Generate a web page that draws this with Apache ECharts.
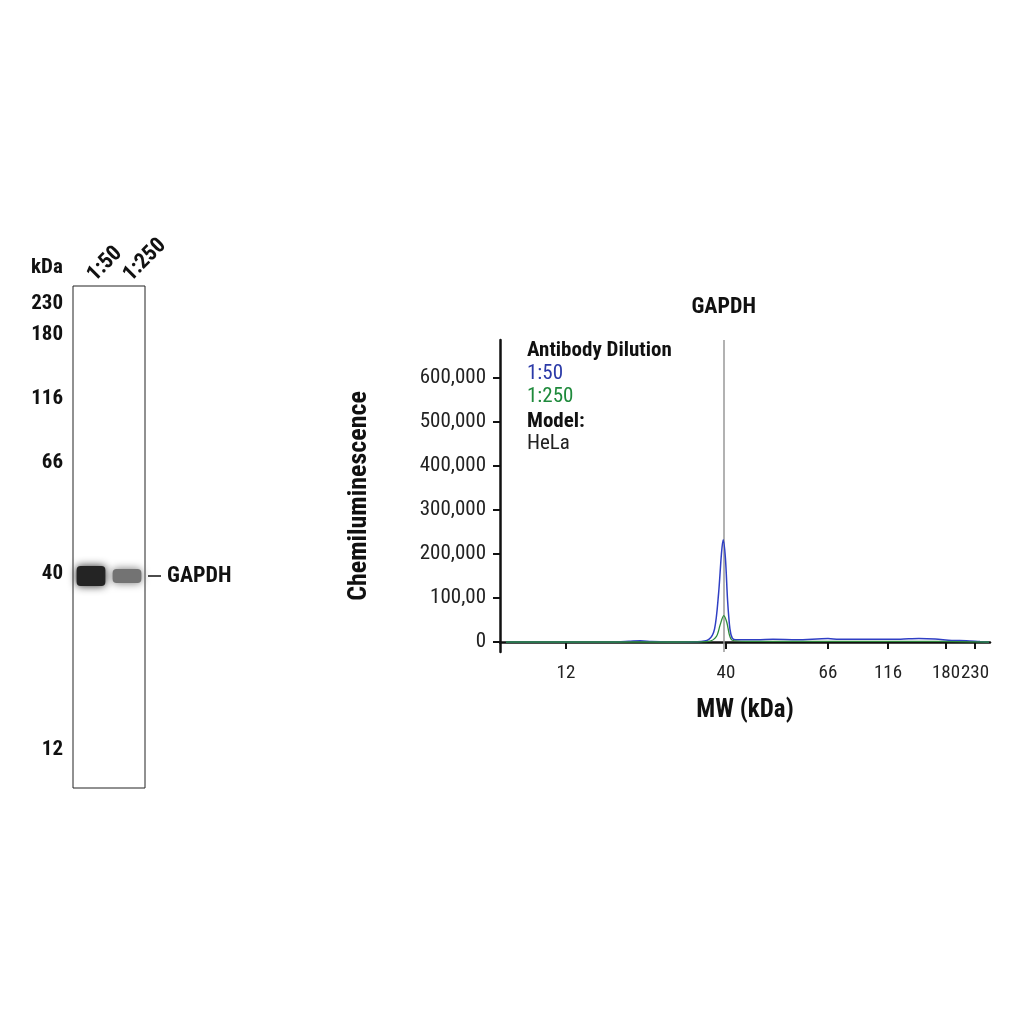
<!DOCTYPE html>
<html><head><meta charset="utf-8">
<script src="https://cdn.jsdelivr.net/npm/echarts@6/dist/echarts.min.js"></script>
<style>html,body{margin:0;background:#fff}#c{width:1024px;height:1024px}</style>
</head><body><div id="c"></div>
<script>
// ---- data ----
const ladderKDa = [1, 12, 40, 66, 116, 180, 230, 260];
const ladderMig = [0, 66, 226, 328, 388, 446, 475, 490];
const xTickKDa = [12, 40, 66, 116, 180, 230];
const yTicks = [0, 100000, 200000, 300000, 400000, 500000, 600000];
const yTickLabels = ['0', '100,00', '200,000', '300,000', '400,000', '500,000', '600,000'];
const blue150 = [[2,0],[10,0],[20,0],[23,1500],[25,3000],[27,1000],[30,0],[35,500],[37,6000],[38,30000],[38.7,110000],[39.2,200000],[39.5,232000],[39.9,190000],[40.4,95000],[41,30000],[41.6,9000],[42.5,5000],[48,5000],[52,6000],[58,5000],[66,8000],[75,6000],[100,6000],[130,6500],[150,8000],[168,7000],[190,3500],[215,3000],[240,1000],[258,0]];
const green250 = [[2,0],[30,0],[37,1500],[38.3,12000],[39,40000],[39.6,60000],[40.2,45000],[40.9,15000],[41.6,4000],[45,1500],[80,1500],[150,1500],[200,800],[258,0]];
const peakKDa = 39.6;
const blotKDa = [230, 180, 116, 66, 40, 12];
const blotMig = [18, 49, 113, 177, 288, 464];
const lanes = ['1:50', '1:250'];
const bands = [[0, 40, 0.86], [1, 40, 0.55]];
// ---- helpers ----
function interp(k, xs, ys){
  for (let i=0;i<xs.length-1;i++){
    const a=xs[i], b=xs[i+1];
    if ((k>=a&&k<=b)||(k<=a&&k>=b)) return ys[i]+(k-a)/(b-a)*(ys[i+1]-ys[i]);
  }
  return k<xs[0]?ys[0]:ys[ys.length-1];
}
const toMig = k => interp(k, ladderKDa, ladderMig);
const blotPos = k => interp(k, blotKDa, blotMig);
const F = '"Roboto Condensed","Liberation Sans Narrow",Arial,sans-serif';
const chart = echarts.init(document.getElementById('c'));
chart.setOption({
  animation:false,
  grid:[
    {left:500, right:34, top:340, bottom:372},
    {left:73, width:72, top:286, height:502, show:true, borderColor:'#222', borderWidth:1}
  ],
  xAxis:[
    {gridIndex:0, type:'value', min:0, max:490,
     name:'MW (kDa)', nameLocation:'middle', nameGap:46,
     nameTextStyle:{fontFamily:F, fontSize:25, fontWeight:'bold', color:'#111'},
     axisLine:{lineStyle:{color:'#111', width:2.5}},
     axisTick:{show:true, length:7, inside:false, lineStyle:{width:2,color:'#111'}, customValues:xTickKDa.map(toMig)},
     axisLabel:{fontFamily:F, fontSize:19, color:'#222', margin:12, hideOverlap:false, customValues:xTickKDa.map(toMig),
       formatter:v=>{const i=xTickKDa.map(toMig).findIndex(m=>Math.abs(m-v)<0.01);return i>=0?String(xTickKDa[i]):'';}},
     splitLine:{show:false}},
    {gridIndex:1, type:'category', data:lanes, position:'top',
     axisLine:{show:false}, axisTick:{show:false},
     axisLabel:{rotate:45, interval:0, hideOverlap:false, fontFamily:F, fontSize:22, fontWeight:'bold', color:'#111', margin:8, align:'left', verticalAlign:'middle'}}
  ],
  yAxis:[
    {gridIndex:0, type:'value', min:-22700, max:686000,
     name:'Chemiluminescence', nameLocation:'middle', nameGap:128, nameRotate:90,
     nameTextStyle:{fontFamily:F, fontSize:26, fontWeight:'bold', color:'#111'},
     axisLine:{show:true, lineStyle:{color:'#111', width:2.5}},
     axisTick:{show:true, length:7, lineStyle:{width:2,color:'#111'}, customValues:yTicks},
     axisLabel:{fontFamily:F, fontSize:21, color:'#222', margin:14, customValues:yTicks,
       formatter:v=>{const i=yTicks.indexOf(v);return i>=0?yTickLabels[i]:'';}},
     splitLine:{show:false}},
    {gridIndex:1, type:'value', min:0, max:502, inverse:true,
     axisLine:{show:false}, axisTick:{show:false}, splitLine:{show:false},
     axisLabel:{fontFamily:F, fontSize:21, fontWeight:'bold', color:'#111', margin:10, hideOverlap:false, customValues:blotKDa.map(blotPos),
       formatter:v=>{const i=blotKDa.map(blotPos).findIndex(m=>Math.abs(m-v)<0.01);return i>=0?blotKDa[i]:'';}}}
  ],
  title:[
    {left:522, top:334, text:'{b|Antibody Dilution}\n{bl|1:50}\n{g|1:250}\n{b|Model:}\n{k|HeLa}',
     textStyle:{fontWeight:'normal', rich:{
       b:{fontFamily:F,fontSize:21,fontWeight:'bold',color:'#111',lineHeight:24},
       bl:{fontFamily:F,fontSize:21,fontWeight:'normal',color:'#2b3aa8',lineHeight:21},
       g:{fontFamily:F,fontSize:21,fontWeight:'normal',color:'#1f8a3c',lineHeight:26},
       k:{fontFamily:F,fontSize:21,fontWeight:'normal',color:'#222',lineHeight:20}}}},
    {left:26, top:252, text:'kDa', textStyle:{fontFamily:F,fontSize:21,fontWeight:'bold',color:'#111'}}
  ],
  series:[
    {type:'line', xAxisIndex:0, yAxisIndex:0, data:green250.map(d=>[toMig(d[0]),d[1]]), symbol:'none', smooth:0.3,
     lineStyle:{color:'#2e8b3a', width:1.3}, z:3},
    {type:'line', xAxisIndex:0, yAxisIndex:0, data:blue150.map(d=>[toMig(d[0]),d[1]]), symbol:'none', smooth:0.3,
     lineStyle:{color:'#2f3fc4', width:1.5}, z:2,
     markLine:{symbol:'none', silent:true, z:1, lineStyle:{color:'#999', width:1.5, type:'solid'},
       label:{show:true, position:'end', formatter:'GAPDH', fontFamily:F, fontSize:22, fontWeight:'bold', color:'#111', distance:22},
       data:[[{coord:[toMig(peakKDa), -22700]},{coord:[toMig(peakKDa), 686000]}]]}},
    {type:'custom', xAxisIndex:1, yAxisIndex:1, data:bands.map(b=>[b[0], blotPos(b[1]), b[2]]),
     renderItem:(params, api)=>{
       const c = api.coord([api.value(0), api.value(1)]);
       const w = api.size([1,0])[0]*0.8;
       const g = Math.round(255*(1-api.value(2)));
       const col = 'rgb('+g+','+g+','+g+')';
       const h = api.value(0)===0 ? 20 : 14;
       const children = [{type:'rect', shape:{x:c[0]-w/2, y:c[1]-h/2+2, width:w, height:h, r:4},
         style:{fill:col, shadowBlur:8, shadowColor:col}}];
       if (api.value(0)===1){
         const xr = c[0]+api.size([1,0])[0]/2;
         children.push({type:'line', shape:{x1:xr+3,y1:c[1]+2,x2:xr+16,y2:c[1]+2}, style:{stroke:'#111',lineWidth:1.5}});
         children.push({type:'text', style:{x:xr+22, y:c[1]+2, text:'GAPDH', fill:'#111', font:'bold 22px '+F, verticalAlign:'middle'}});
       }
       return {type:'group', children};
     }}
  ]
});
</script></body></html>
